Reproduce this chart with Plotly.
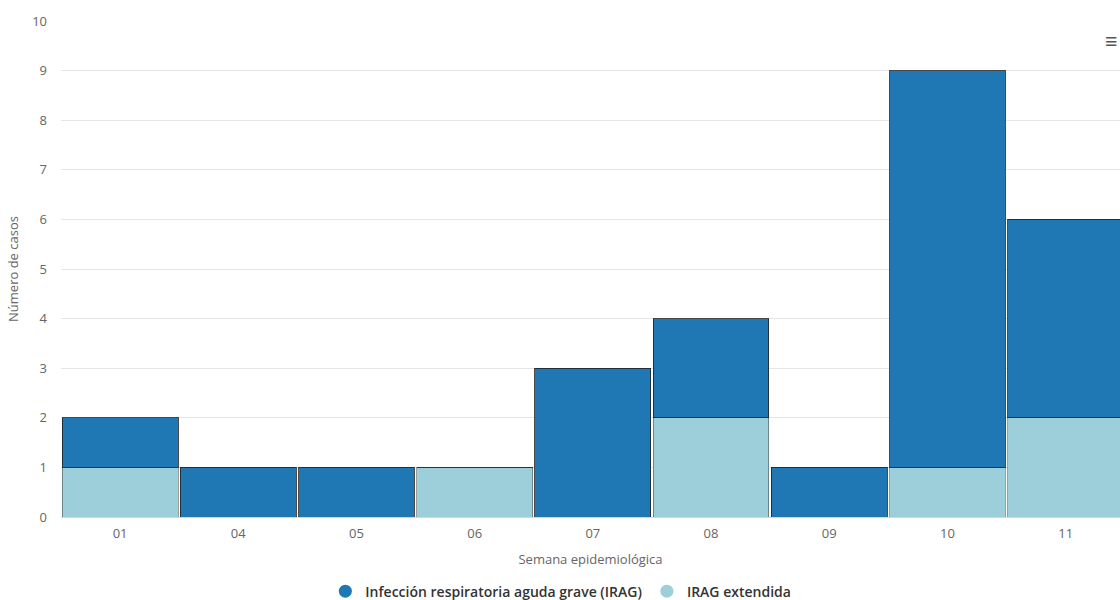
import plotly.graph_objects as go

semanas = ["01", "04", "05", "06", "07", "08", "09", "10", "11"]
irag = [1, 1, 1, 0, 3, 2, 1, 8, 4]
irag_extendida = [1, 0, 0, 1, 0, 2, 0, 1, 2]

nombre_irag = "Infección respiratoria aguda grave (IRAG)"
nombre_ext = "IRAG extendida"
color_irag = "#1f77b4"
color_ext = "#9ccfd9"
fuente = "Open Sans"

fig = go.Figure()

# stacked bars: extended IRAG at the base, IRAG on top
fig.add_trace(go.Bar(
    x=semanas, y=irag_extendida, name=nombre_ext, showlegend=False,
    marker=dict(color=color_ext, line=dict(color="rgba(60,60,60,0.5)", width=1)),
))
fig.add_trace(go.Bar(
    x=semanas, y=irag, name=nombre_irag, showlegend=False,
    marker=dict(color=color_irag, line=dict(color="rgba(30,30,30,0.8)", width=1)),
))

# legend entries with round symbols
for nombre, color in [(nombre_irag, color_irag), (nombre_ext, color_ext)]:
    fig.add_trace(go.Scatter(
        x=[None], y=[None], mode="markers", name=nombre,
        marker=dict(symbol="circle", size=13, color=color),
    ))

fig.update_layout(
    width=1120, height=600,
    margin=dict(l=61, r=0, t=21, b=83, autoexpand=False),
    barmode="stack", bargap=0.02,
    plot_bgcolor="white", paper_bgcolor="white",
    font=dict(family=fuente, size=13, color="#666666"),
    showlegend=True,
    legend=dict(
        orientation="h", x=0.472, xanchor="center",
        yref="container", y=0.014, yanchor="middle",
        font=dict(family=fuente, size=14, color="#333333", weight=600),
        itemwidth=30, traceorder="normal", tracegroupgap=0,
    ),
    xaxis=dict(
        type="category", range=[-0.5, 8.46], automargin=False,
        showline=True, linecolor="#ccd6eb", linewidth=1,
        showgrid=False, ticks="", ticklabelstandoff=4,
        tickfont=dict(size=13, color="#666666"),
        title=dict(text="Semana epidemiológica", standoff=14,
                   font=dict(size=13, color="#666666")),
    ),
    yaxis=dict(
        range=[0, 10], dtick=1, showgrid=True, gridcolor="#e6e6e6",
        zeroline=False, ticks="", ticklabelstandoff=13, automargin=False,
        tickfont=dict(size=13, color="#666666"),
        title=dict(text="Número de casos", standoff=10,
                   font=dict(size=13, color="#666666")),
    ),
)

# export menu glyph in the top-right corner
fig.add_annotation(
    xref="paper", yref="paper", x=1.0, y=1.0, xanchor="right", yanchor="top",
    text="<b>≡</b>", showarrow=False, font=dict(size=22, color="#555555"),
    xshift=0, yshift=-2,
)

fig.write_html("out.html")
